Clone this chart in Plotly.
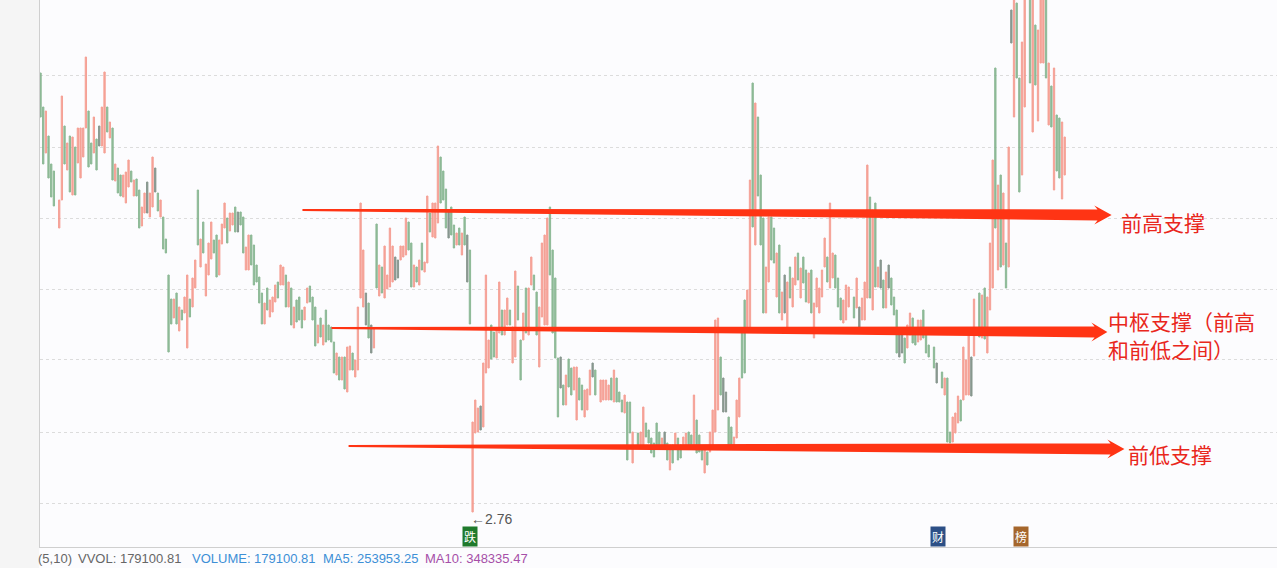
import plotly.graph_objects as go

# Session index of each bar (gaps are sessions hidden in the source chart)
bar_day = [
 0,1,2,3,4,5,7,8,9,10,11,12,13,14,15,16,17,18,19,20,21,22,23,24,25,26,27,28,29,30,
 31,32,33,34,35,36,37,38,39,40,41,42,43,44,45,46,47,48,49,50,51,52,53,54,55,56,57,58,59,60,
 61,62,63,64,65,66,67,68,69,70,71,72,73,74,75,
 76,77,78,79,80,81,82,83,84,85,86,87,88,89,90,91,92,93,94,95,96,97,98,99,100,101,102,103,104,105,
 106,107,108,109,110,111,112,113,114,115,116,117,118,119,120,121,122,123,124,125,126,127,128,129,130,
 131,132,133,134,135,136,137,138,139,140,141,142,143,144,145,146,147,148,149,150,151,152,153,154,155,
 156,157,158,159,160,161,
 162,163,164,165,166,167,168,169,170,171,172,173,174,175,176,177,178,179,180,181,182,183,184,185,186,
 187,188,189,190,191,192,193,194,195,196,197,198,199,200,201,202,203,204,205,206,207,208,
 210,211,212,213,214,215,216,217,218,219,220,221,222,224,225,226,227,228,229,230,231,232,233,234,235,
 236,237,238,239,240,241,242,243,244,245,246,247,248,249,250,251,252,
 253,254,255,256,257,258,259,260,261,262,263,264,265,266,267,268,269,270,
 271,272,273,274,275,276,277,278,279,280,281,282,283,284,285,286,287,288,289,290,291,292,293,294,295,
 296,297,298,299,300,301,302,303,305,306,307,308,309,310,311,312,313,314,315,316,317,318,319,320,321,322,323,
 324,325,326,327,328,329,330,331,332,333,335,336,338,339,340,341,342,343,344,345,346,347,348,349,350,
 352,353,354,355,356,357,358,359,360,361,362,363,364,365,366,367,368,369,371,372,373,374,375,376,377,
 378,379,380,381,382,383,384,
]
bar_high = [
 7.15,6.81,6.77,6.52,6.24,6.17,5.88,6.92,6.62,6.45,6.52,6.51,6.41,6.60,6.60,6.60,7.31,6.77,6.45,6.71,6.49,6.62,6.81,7.16,6.81,6.66,6.60,6.24,6.20,6.13,
 6.13,6.16,6.28,6.17,6.08,6.09,5.98,5.81,5.95,6.06,5.95,6.31,6.20,5.95,5.88,5.71,5.49,5.13,4.89,4.89,4.95,4.81,4.78,4.91,5.13,4.89,5.10,5.28,5.98,5.49,
 5.66,5.24,5.45,5.66,5.48,5.53,5.48,5.64,5.85,5.70,5.75,5.75,5.81,5.76,5.76,
 5.71,5.41,5.53,5.53,5.43,5.23,5.11,4.95,4.85,5.00,4.88,4.91,5.03,5.06,5.23,5.21,5.13,5.06,5.00,4.81,4.88,4.91,4.78,4.81,5.00,5.02,4.91,4.81,4.63,4.70,
 4.63,4.78,4.63,4.61,4.46,4.35,4.31,4.31,4.31,4.41,4.42,4.35,4.28,4.81,5.85,5.38,4.95,4.85,4.63,4.60,5.64,5.23,5.21,5.42,5.13,
 5.60,5.42,5.31,5.28,5.42,5.42,5.70,5.66,5.45,5.23,5.21,5.28,5.45,5.26,5.92,5.75,5.85,5.85,6.42,6.31,6.17,5.99,5.76,5.81,5.63,
 5.55,5.60,5.55,5.71,5.53,5.38,
 3.66,3.88,3.80,3.82,4.25,5.13,4.48,4.63,4.56,4.58,5.06,4.78,4.78,4.90,4.78,4.61,5.17,5.02,4.48,4.75,5.00,5.00,5.31,5.13,4.96,
 4.81,5.45,5.53,5.70,5.81,5.38,5.10,4.30,4.31,4.03,4.13,4.29,4.20,4.21,4.21,4.10,4.03,3.98,3.99,4.18,4.25,4.18,
 4.08,4.08,4.08,4.03,4.10,4.18,4.10,3.96,3.88,3.93,3.86,3.86,3.56,3.55,3.56,3.81,3.65,3.58,3.50,3.45,3.65,3.56,3.50,3.56,3.45,
 3.43,3.43,3.55,3.50,3.43,3.51,3.55,3.56,3.53,3.93,3.68,3.53,3.40,3.40,3.36,3.56,3.78,
 4.68,4.70,4.31,4.10,3.96,3.71,3.61,3.51,3.88,4.10,4.58,4.88,4.98,6.08,7.05,6.85,6.71,6.13,
 5.70,5.21,5.71,5.71,5.60,5.35,5.43,4.96,5.13,5.06,5.21,5.10,5.31,5.35,5.20,5.31,5.18,5.15,5.18,4.85,5.10,5.00,5.18,5.50,5.31,
 5.85,5.35,5.33,5.10,4.90,4.88,5.03,5.01,4.91,5.10,4.81,4.90,5.06,6.23,5.91,5.78,5.85,5.21,5.28,5.08,5.16,5.23,5.10,4.91,4.78,4.53,4.53,
 4.50,4.63,4.75,4.70,4.60,4.68,4.68,4.78,4.53,4.43,4.41,4.25,4.16,4.10,4.10,3.56,3.71,3.75,3.92,3.88,4.41,4.28,4.52,4.31,4.89,
 4.95,4.93,5.00,4.91,5.45,6.28,7.20,6.03,6.13,5.95,5.45,6.41,7.78,7.95,7.85,7.10,7.46,7.95,7.95,7.95,7.63,7.58,7.95,7.95,7.95,
 7.25,7.02,7.20,6.73,6.70,6.66,6.51,
]
bar_low = [
 6.71,6.24,6.35,6.10,5.91,5.82,5.60,5.88,6.24,6.18,5.96,5.93,5.93,6.25,6.10,6.31,6.60,6.21,6.24,6.35,6.18,6.42,6.42,6.35,6.56,6.50,6.08,6.07,5.95,5.92,
 5.91,5.85,6.01,6.06,5.92,5.92,5.60,5.62,5.75,5.75,5.71,5.81,5.96,5.77,5.71,5.39,5.35,4.36,4.64,4.70,4.64,4.57,4.68,4.75,4.40,4.71,4.81,5.00,5.43,5.21,
 5.35,4.92,5.13,5.29,5.35,5.11,5.13,5.44,5.60,5.45,5.57,5.63,5.56,5.56,5.63,
 5.35,5.18,5.18,5.23,5.03,5.06,4.85,4.64,4.64,4.78,4.71,4.76,4.86,4.90,5.03,5.03,4.81,4.81,4.63,4.60,4.66,4.68,4.60,4.68,4.85,4.86,4.68,4.42,4.45,4.51,
 4.43,4.46,4.48,4.46,4.15,4.13,4.08,4.08,3.99,3.96,4.18,4.18,4.11,4.18,4.90,4.81,4.63,4.50,4.35,4.40,5.00,4.92,4.95,4.90,4.99,
 5.01,5.06,5.08,5.10,5.28,5.31,5.33,5.38,5.01,5.01,5.06,5.03,5.18,5.16,5.25,5.56,5.51,5.50,5.65,5.85,5.88,5.60,5.50,5.53,5.40,
 5.43,5.43,5.33,5.43,5.06,4.64,
 2.76,3.55,3.56,3.58,3.61,4.15,4.20,4.29,4.31,4.30,4.55,4.53,4.53,4.63,4.63,4.25,4.31,4.68,4.08,4.48,4.55,4.53,5.03,4.98,4.53,
 4.21,4.71,4.63,4.63,5.13,4.55,4.30,3.71,4.00,3.83,3.83,4.01,3.93,3.98,3.68,3.88,3.78,3.71,3.78,3.93,4.11,3.93,
 3.86,3.88,3.88,3.88,3.88,3.86,3.86,3.86,3.76,3.75,3.28,3.55,3.25,3.40,3.41,3.41,3.51,3.45,3.35,3.31,3.43,3.43,3.40,3.43,3.28,
 3.18,3.25,3.40,3.28,3.30,3.40,3.40,3.41,3.40,3.41,3.35,3.36,3.28,3.15,3.23,3.36,3.40,
 3.56,3.78,3.93,3.76,3.76,3.43,3.43,3.43,3.50,3.71,4.10,4.15,4.60,4.58,5.61,5.43,5.92,5.43,
 4.75,4.75,5.06,5.28,5.25,4.91,4.75,4.68,4.75,4.61,4.90,4.81,5.03,5.08,4.90,5.05,4.86,4.85,4.75,4.50,4.81,4.75,4.91,5.21,5.06,
 5.00,5.10,5.00,4.81,4.68,4.65,4.68,4.81,4.70,4.80,4.61,4.68,4.68,4.90,4.90,4.78,5.01,5.01,5.00,4.80,4.80,5.00,4.83,4.73,4.35,4.31,4.35,
 4.25,4.40,4.53,4.45,4.43,4.46,4.48,4.50,4.35,4.31,4.20,4.05,4.00,3.93,3.46,3.45,3.46,3.55,3.65,3.67,3.88,3.93,3.93,3.92,4.32,
 4.51,4.50,4.49,4.35,4.78,5.00,5.60,5.18,5.21,5.23,5.00,5.21,7.45,6.71,7.10,5.96,6.13,6.81,7.05,6.56,7.03,6.67,7.25,7.25,7.10,
 6.63,6.61,5.98,6.17,6.10,5.89,6.13,
]
# r = up day, g = down day, d = down day drawn in the darker grey-green
bar_kind = (
 "ggrgggrrgrgrgrrrrggrgdrrgrgrgg"
 "rrrgrggrrdrrdgrggggrgrgrrgrrgr"
 "grrrggrrrgrrgdg"
 "grrgggggrgrrrgrrgrgrgggrrgggrg"
 "rggggrgrgrrgrrrrdgdrgrgrr"
 "rrddrrrggrgrgrrgrrrgggdgg"
 "rgrgdg"
 "rrrdrrrggrrgrrgrrggrgrrgg"
 "rrrrggggdgrggrrggrrrdg"
 "rrrrgrgggrggrgrrggggggrdg"
 "rgrggrrggrgggrgrr"
 "rrgddggrrrggrrgrgg"
 "grrggrgrdrgrrgrggrgrrrrrg"
 "rrgggrrrgrdrrrgrgrdgrdgggdd"
 "grrggrrggggdgrggrrrgrrrdr"
 "grgrrrgrgrgrdrggrrgrgrrrg"
 "rgrggrr"
)
assert len(bar_day) == len(bar_high) == len(bar_low) == len(bar_kind)

grid_prices = [7.13, 6.41, 5.70, 4.99, 4.29, 3.56, 2.85]
price_bottom, price_top = 2.41, 7.88
day_left, day_right = -0.2, 463.6

# Support lines: start day, start price, tip day, tip price, head-base day
arrow_start_day = [98.2, 109.1, 115.5]
arrow_start_price = [5.78, 4.60, 3.42]
arrow_tip_day = [401.6, 400.0, 406.4]
arrow_tip_price = [5.73, 4.56, 3.39]
arrow_head_day = [396.3, 395.2, 401.2]

W, H = 1277, 568
L, B = 40, 21
PW, PH = W - L, H - B

def fx(px):
    return (px - L) / PW

def fy(py):
    return 1 - py / PH

fig = go.Figure()
styles = {"r": "#f59a8e", "g": "#84b48e", "d": "#7f8f86"}
for kind, colour in styles.items():
    idx = [i for i, k in enumerate(bar_kind) if k == kind]
    highs = [bar_high[i] for i in idx]
    lows = [bar_low[i] for i in idx]
    up = kind == "r"
    fig.add_trace(go.Candlestick(
        x=[bar_day[i] for i in idx],
        open=lows if up else highs,
        close=highs if up else lows,
        high=highs,
        low=lows,
        whiskerwidth=0,
        opacity=0.92,
        increasing=dict(line=dict(color=colour, width=1), fillcolor=colour),
        decreasing=dict(line=dict(color=colour, width=1), fillcolor=colour),
        showlegend=False,
        hoverinfo="skip",
    ))

shapes = [
    dict(type="rect", xref="paper", yref="paper", x0=fx(0), x1=fx(39), y0=fy(568), y1=1,
         fillcolor="#f5f5f5", line_width=0, layer="below"),
]
RED = "#ff3414"
for sd, sp, td, tp, hd in zip(arrow_start_day, arrow_start_price, arrow_tip_day,
                              arrow_tip_price, arrow_head_day):
    slope = (tp - sp) / (td - sd)
    notch = hd - 1.2
    np_ = sp + slope * (notch - sd)
    path = (f"M {sd} {sp + 0.011} L {hd} {np_ + 0.055} L {notch} {np_ + 0.095} L {td} {tp} "
            f"L {notch} {np_ - 0.095} L {hd} {np_ - 0.055} L {sd} {sp - 0.011} Z")
    shapes.append(dict(type="path", xref="x", yref="y", path=path,
                       fillcolor=RED, line_width=0, layer="above"))

CJK = "Noto Sans CJK SC"
LAT = "Liberation Sans"
def note(text, px, py, colour, size, family=LAT, anchor="left", **kw):
    return dict(text=text, x=fx(px), y=fy(py), xref="paper", yref="paper",
                xanchor=anchor, yanchor="middle", showarrow=False,
                font=dict(color=colour, size=size, family=family), **kw)

labels = [
    note("前高支撑", 1119, 222, "#e9271c", 21, CJK),
    note("中枢支撑（前高", 1106, 321, "#e9271c", 21, CJK),
    note("和前低之间）", 1106, 349, "#e9271c", 21, CJK),
    note("前低支撑", 1126, 454, "#e9271c", 21, CJK),
    note("←2.76", 469, 519, "#555555", 14),
    note("(5,10)", 36, 558, "#666666", 13),
    note("VVOL: 179100.81", 76, 558, "#666666", 13),
    note("VOLUME: 179100.81", 190, 558, "#3d8fd6", 13),
    note("MA5: 253953.25", 321, 558, "#3d8fd6", 13),
    note("MA10: 348335.47", 423, 558, "#a64fa8", 13),
    note("跌", 469.5, 536, "#ffffff", 12, CJK, "center", bgcolor="#1f7a2c", borderpad=1),
    note("财", 938, 536, "#ffffff", 12, CJK, "center", bgcolor="#2c4f86", borderpad=1),
    note("榜", 1021, 536, "#ffffff", 12, CJK, "center", bgcolor="#a5662c", borderpad=1),
]

fig.update_layout(
    width=W, height=H,
    margin=dict(l=L, r=0, t=0, b=B, pad=0),
    paper_bgcolor="#fcfcfe",
    plot_bgcolor="#fcfcfe",
    showlegend=False,
    hovermode=False,
    shapes=shapes,
    annotations=labels,
    xaxis=dict(range=[day_left, day_right], showgrid=False, zeroline=False,
               showticklabels=False, ticks="", rangeslider=dict(visible=False),
               showline=True, linecolor="#cfcfcf", linewidth=1, fixedrange=True),
    yaxis=dict(range=[price_bottom, price_top], tickvals=grid_prices, showticklabels=False,
               ticks="", showgrid=True, gridcolor="#dcdcdc", gridwidth=1, griddash="dot",
               zeroline=False, showline=True, linecolor="#cfcfcf", linewidth=1, fixedrange=True),
)
fig.write_html("out.html", config=dict(displayModeBar=False),
               post_script="document.body.style.margin='0';document.documentElement.style.overflow='hidden';")
